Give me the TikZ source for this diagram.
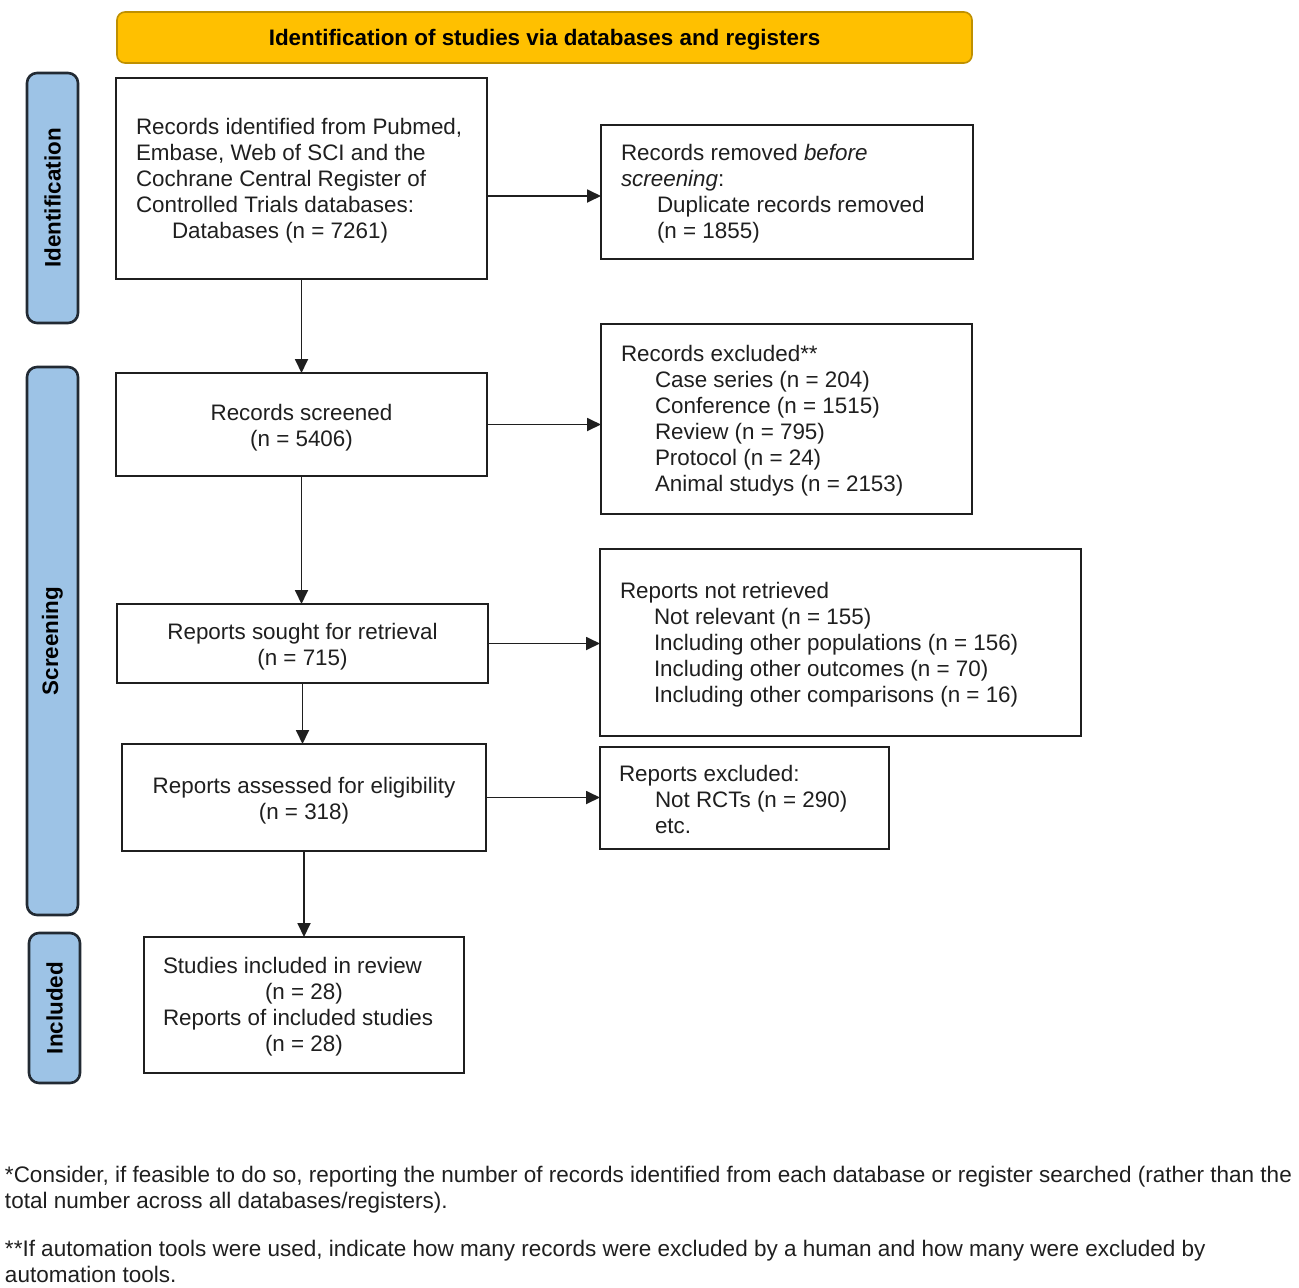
\documentclass[tikz,border=0pt]{standalone}
\usepackage{fontspec}
\setmainfont{Liberation Sans}
\usetikzlibrary{arrows.meta,calc}
\definecolor{hdrfill}{HTML}{FFC000}
\definecolor{hdrdraw}{HTML}{BF9000}
\definecolor{sidefill}{HTML}{9DC3E6}
\definecolor{sidedraw}{HTML}{222A33}
\begin{document}
\begin{tikzpicture}[x=1pt,y=-1pt,
  every node/.style={inner sep=0pt, outer sep=0pt},
  txt/.style={font=\fontsize{22.4pt}{26pt}\selectfont, text=black!88},
  box/.style={draw=black!88, line width=2.8pt, fill=white, txt, align=center},
  hdr/.style={draw=hdrdraw, line width=1.6pt, fill=hdrfill, rounded corners=8pt, font=\fontsize{22.4pt}{26pt}\selectfont\bfseries},
  side/.style={draw=sidedraw, line width=2.6pt, fill=sidefill, rounded corners=10pt, font=\fontsize{22.4pt}{26pt}\selectfont\bfseries},
  inbox/.style={txt, align=left, anchor=west},
  ctr/.style={txt, align=center},
  arr/.style={draw=black!88, line width=1.8pt, -{Triangle[length=14pt,width=13pt]}},
  foot/.style={font=\fontsize{22.5pt}{26pt}\selectfont, text=black!88, anchor=west, align=left}
]
\useasboundingbox (0,0) rectangle (1299,1288);

% header
\node[hdr, minimum width=855pt, minimum height=51pt] (hdr) at (544.5,37.5) {};
\node[font=\fontsize{22.4pt}{26pt}\selectfont\bfseries] (hdrt) at ($(hdr.center)+(0,2)$) {Identification of studies via databases and registers};

% side labels
\node[side, minimum width=51pt, minimum height=250pt] (sid) at (52.5,198) {\rotatebox{90}{Identification}};
\node[side, minimum width=51pt, minimum height=548pt] (sscr) at (52.5,641) {\rotatebox{90}{Screening}};
\node[side, minimum width=51pt, minimum height=150pt] (sinc) at (54.5,1008) {\rotatebox{90}{Included}};

% boxes
\node[box, minimum width=371pt, minimum height=201pt] (b1) at (301.5,178.5) {};
\node[inbox] (t1) at ($(b1.west)+(20,2)$) {Records identified from Pubmed,\\Embase, Web of SCI and the\\Cochrane Central Register of\\Controlled Trials databases:\\\hspace*{36pt}Databases (n = 7261)};

\node[box, minimum width=372pt, minimum height=134pt] (b2) at (787,192) {};
\node[inbox] (t2) at ($(b2.west)+(20,2)$) {Records removed \textit{before}\\\textit{screening}:\\\hspace*{36pt}Duplicate records removed\\\hspace*{36pt}(n = 1855)};

\node[box, minimum width=371pt, minimum height=103pt] (b3) at (301.5,424.5) {};
\node[ctr] (t3) at ($(b3.center)+(0,3)$) {Records screened\\(n = 5406)};

\node[box, minimum width=371pt, minimum height=190pt] (b4) at (786.5,419) {};
\node[inbox] (t4) at ($(b4.west)+(20,2)$) {Records excluded**\\\hspace*{34pt}Case series (n = 204)\\\hspace*{34pt}Conference (n = 1515)\\\hspace*{34pt}Review (n = 795)\\\hspace*{34pt}Protocol (n = 24)\\\hspace*{34pt}Animal studys (n = 2153)};

\node[box, minimum width=371pt, minimum height=79pt] (b5) at (302.5,643.5) {};
\node[ctr] (t5) at ($(b5.center)+(0,3)$) {Reports sought for retrieval\\(n = 715)};

\node[box, minimum width=481pt, minimum height=187pt] (b6) at (840.5,642.5) {};
\node[inbox] (t6) at ($(b6.west)+(20,2)$) {Reports not retrieved\\\hspace*{34pt}Not relevant (n = 155)\\\hspace*{34pt}Including other populations (n = 156)\\\hspace*{34pt}Including other outcomes (n = 70)\\\hspace*{34pt}Including other comparisons (n = 16)};

\node[box, minimum width=364pt, minimum height=107pt] (b7) at (304,797.5) {};
\node[ctr] (t7) at ($(b7.center)+(0,3)$) {Reports assessed for eligibility\\(n = 318)};

\node[box, minimum width=289pt, minimum height=102pt] (b8) at (744.5,798) {};
\node[inbox] (t8) at ($(b8.west)+(19,1)$) {Reports excluded:\\\hspace*{36pt}Not RCTs (n = 290)\\\hspace*{36pt}etc.};

\node[box, minimum width=320pt, minimum height=136pt] (b9) at (304,1005) {};
\node[inbox] (t9) at ($(b9.west)+(19,2)$) {Studies included in review\\\hspace*{102pt}(n = 28)\\Reports of included studies\\\hspace*{102pt}(n = 28)};

% arrows
\draw[arr] (b1.south) -- (b1.south |- b3.north);
\draw[arr] (b3.south) -- (b3.south |- b5.north);
\draw[arr] (b5.south) -- (b5.south |- b7.north);
\draw[arr] (b7.south) -- (b7.south |- b9.north);
\draw[arr] ($(b2.west -| b1.east)+(0,4)$) -- ($(b2.west)+(0,4)$);
\draw[arr] (b3.east) -- (b3.east -| b4.west);
\draw[arr] (b5.east) -- (b5.east -| b6.west);
\draw[arr] (b7.east) -- (b7.east -| b8.west);

% footnotes
\node[foot] (f1) at (5,1190) {*Consider, if feasible to do so, reporting the number of records identified from each database or register searched (rather than the\\total number across all databases/registers).};
\node[foot] (f2) at (5,1261) {**If automation tools were used, indicate how many records were excluded by a human and how many were excluded by\\automation tools.};
\end{tikzpicture}
\end{document}
